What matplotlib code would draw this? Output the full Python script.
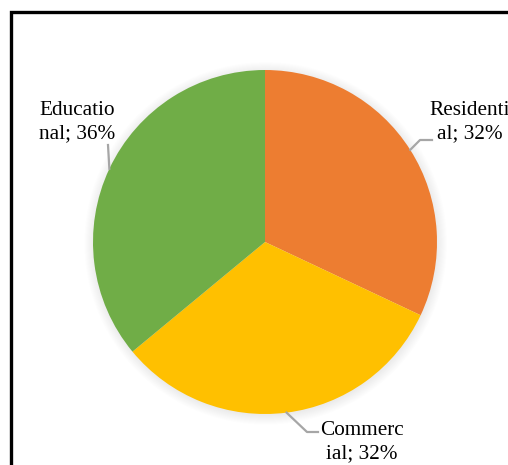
import numpy as np
import matplotlib
matplotlib.use('Agg')
import matplotlib.pyplot as plt
from matplotlib.patches import Rectangle, Circle

labels = ['Residenti\nal', 'Commerc\nial', 'Educatio\nnal']
shares = [32, 32, 36]
colors = ['#ED7D31', '#FFC000', '#70AD47']

plt.rcParams['font.family'] = ['Liberation Serif', 'DejaVu Serif']

W, H = 508, 465
cx, cy, R = 265, 242, 172  # pie centre / radius in pixels

fig = plt.figure(figsize=(W / 100, H / 100), dpi=100)
ax = fig.add_axes([0, 0, 1, 1])
ax.axis('off')

# chart frame (cut off on right and bottom, like the source)
fig.patches.append(Rectangle((11 / W, -0.1), 1.2, 1 - 12 / H + 0.1,
                             transform=fig.transFigure, fill=False,
                             edgecolor='black', linewidth=2.4))

# soft shadow
for k in range(10):
    ax.add_patch(Circle((0.004, -0.008), 1.0 + 0.006 * k, color='black',
                        alpha=0.009, linewidth=0, zorder=0))

wedges, _ = ax.pie(shares, colors=colors, startangle=90, counterclock=False,
                   radius=1.0, wedgeprops=dict(linewidth=0), frame=False)
ax.set_aspect('auto')
ax.set_xlim(-cx / R, (W - cx) / R)
ax.set_ylim(-(H - cy) / R, cy / R)


def px(x, y):
    return (x - cx) / R, (cy - y) / R


# leader line bends and text centres in pixels
bends = [[(420, 140), (432, 140)],
         [(307, 432), (318, 432)],
         [(108, 145)]]
text_pos = [(470, 122), (362, 442), (77, 122)]

for w, lab, val, bend, tp in zip(wedges, labels, shares, bends, text_pos):
    mid = np.deg2rad((w.theta1 + w.theta2) / 2)
    pts = [(np.cos(mid), np.sin(mid))] + [px(*b) for b in bend]
    xs, ys = zip(*pts)
    ax.plot(xs, ys, color='#A6A6A6', linewidth=1.6, zorder=3)
    tx, ty = px(*tp)
    ax.text(tx, ty, f'{lab}; {val}%', ha='center', va='center',
            multialignment='center', fontsize=15.3, linespacing=1.28,
            color='black', zorder=4)

fig.savefig('out.png', dpi=100)
